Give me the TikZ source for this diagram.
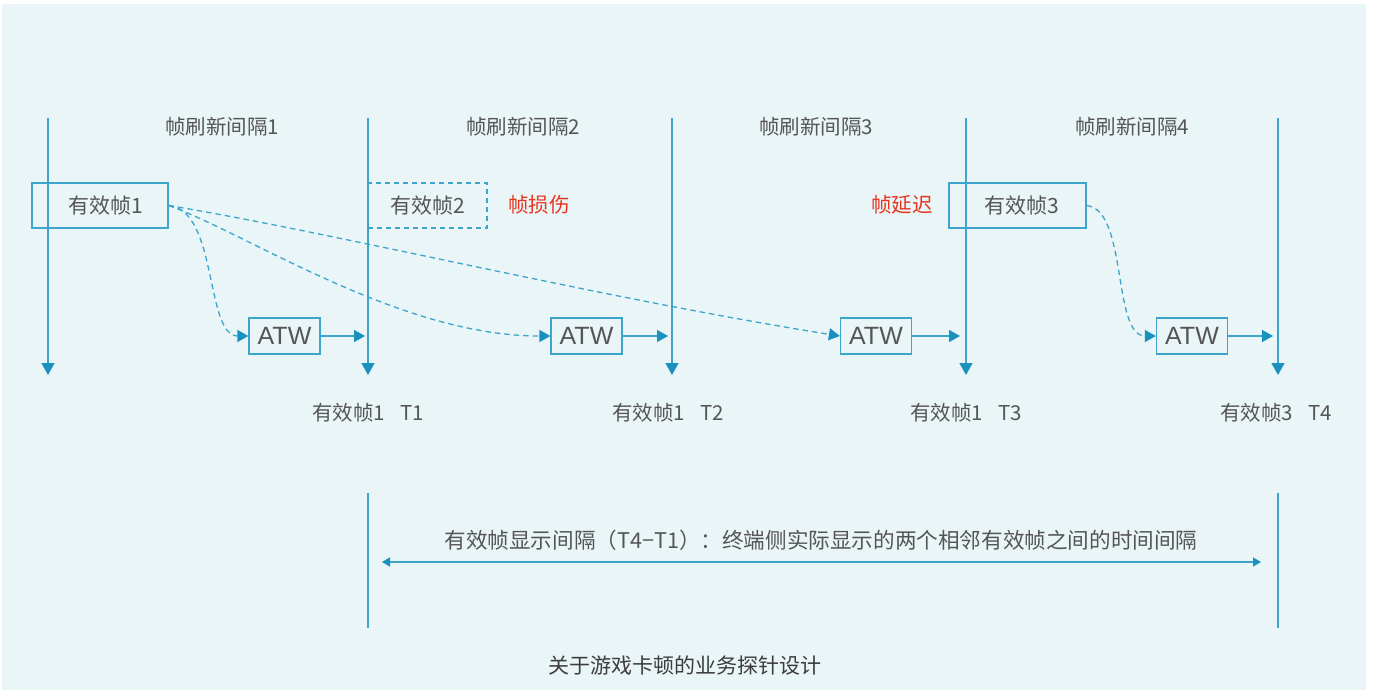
\documentclass[tikz,border=0pt]{standalone}
\usepackage{fontspec}
\setmainfont{Noto Sans CJK SC}
\newfontfamily\latinfont{Liberation Sans}
\usetikzlibrary{arrows.meta}
\definecolor{bgc}{HTML}{EAF5F8}
\definecolor{ln}{HTML}{3DA5CB}
\definecolor{tip}{HTML}{1A90BE}
\definecolor{txt}{HTML}{555555}
\definecolor{cap}{HTML}{3C3C3C}
\definecolor{redc}{HTML}{E8341C}
\tikzset{
  x=1pt,y=-1pt,
  tl/.style={draw=ln,line width=1.4pt,-{Triangle[width=13pt,length=12pt,fill=tip,color=tip]}},
  sl/.style={draw=ln,line width=1.3pt},
  frame/.style={draw=ln,line width=1.3pt,minimum height=45pt,inner sep=0pt,text=txt,font=\fontsize{21}{25}\selectfont},
  atw/.style={draw=ln,line width=1.3pt,minimum width=71pt,minimum height=36pt,inner sep=0pt,text=txt,font=\latinfont\fontsize{25}{28}\selectfont},
  lab/.style={text=txt,font=\fontsize{20.5}{24}\selectfont,inner sep=0pt},
  warn/.style={text=redc,font=\fontsize{20.5}{24}\selectfont,inner sep=0pt},
  dc/.style={draw=ln,line width=1.3pt,dash pattern=on 5.5pt off 4pt,-{Triangle[width=12pt,length=11pt,fill=tip,color=tip]}},
  sa/.style={draw=ln,line width=1.4pt,-{Triangle[width=12pt,length=11pt,fill=tip,color=tip]}},
}
\begin{document}
\begin{tikzpicture}
\useasboundingbox (0,0) rectangle (1373,693);
\fill[white] (0,0) rectangle (1373,693);
\fill[bgc] (2,4) rectangle (1366,690);

% vertical time lines
\foreach \n/\x in {a/48,b/368,c/672,d/966,e/1278}{
  \coordinate (\n top) at (\x,118);
  \coordinate (\n bot) at (\x,375);
}
\draw[tl] (atop) -- (abot);
\draw[tl] (btop) -- (bbot);
\draw[tl] (ctop) -- (cbot);
\draw[tl] (dtop) -- (dbot);
\draw[tl] (etop) -- (ebot);

% interval labels
\node[lab] (i1) at (222,127) {帧刷新间隔1};
\node[lab] (i2) at (523,127) {帧刷新间隔2};
\node[lab] (i3) at (816,127) {帧刷新间隔3};
\node[lab] (i4) at (1132,127) {帧刷新间隔4};

% frames
\node[frame,minimum width=136pt] (f1) at (100,205.5) {\hspace{12pt}有效帧1};
\node[frame,minimum width=119pt,dash pattern=on 5pt off 4pt] (f2) at (427.5,205.5) {有效帧2};
\node[frame,minimum width=137pt] (f3) at (1017.5,205.5) {\hspace{8pt}有效帧3};
\node[warn] (w1) at (539,205) {帧损伤};
\node[warn] (w2) at (902,205) {帧延迟};

% ATW boxes
\node[atw] (t1) at (284.5,336) {ATW};
\node[atw] (t2) at (586.5,336) {ATW};
\node[atw] (t3) at (876,336) {ATW};
\node[atw] (t4) at (1192,336) {ATW};

% arrows ATW -> lines
\coordinate (e1) at (365,336);
\coordinate (e2) at (668,336);
\coordinate (e3) at (960,336);
\coordinate (e4) at (1273,336);
\draw[sa] (t1.east) -- (e1);
\draw[sa] (t2.east) -- (e2);
\draw[sa] (t3.east) -- (e3);
\draw[sa] (t4.east) -- (e4);

% dashed curves
\draw[dc] (f1.east) .. controls (218,210) and (205,336) .. (t1.west);
\draw[dc] (f1.east) .. controls (250,235) and (400,336) .. (t2.west);
\draw[dc] (f1.east) .. controls (330,232) and (600,298) .. (t3.west);
\draw[dc] (f3.east) .. controls (1128,210) and (1112,336) .. (t4.west);

% time labels
\node[lab] (l1) at (368,413) {有效帧1\hspace{0.75em}T1};
\node[lab] (l2) at (668,413) {有效帧1\hspace{0.75em}T2};
\node[lab] (l3) at (966,413) {有效帧1\hspace{0.75em}T3};
\node[lab] (l4) at (1276,413) {有效帧3\hspace{0.75em}T4};

% display interval
\coordinate (b1t) at (368,493);
\coordinate (b1b) at (368,628);
\coordinate (b2t) at (1278,493);
\coordinate (b2b) at (1278,628);
\draw[sl] (b1t) -- (b1b);
\draw[sl] (b2t) -- (b2b);
\coordinate (da) at (382,562);
\coordinate (db) at (1261,562);
\draw[draw=ln,line width=1.4pt,{Triangle[width=9pt,length=8pt,fill=tip,color=tip]}-{Triangle[width=9pt,length=8pt,fill=tip,color=tip]}] (da) -- (db);
\node[lab,font=\fontsize{21.6}{26}\selectfont] (dt) at (821,540) {有效帧显示间隔（T4−T1）：终端侧实际显示的两个相邻有效帧之间的时间间隔};

% caption
\node[text=cap,font=\fontsize{21}{25}\selectfont,inner sep=0pt] (cp) at (685,666) {关于游戏卡顿的业务探针设计};
\end{tikzpicture}
\end{document}
